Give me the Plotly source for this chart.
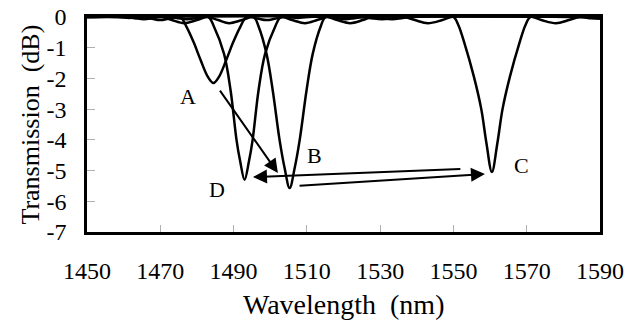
import plotly.graph_objects as go

# ---- data ----
wl_A = [1450, 1458.5, 1461.5, 1465, 1467.5, 1470, 1472.5, 1475.5, 1477.2, 1479.2, 1481, 1483,
        1484.5, 1486, 1488, 1489.8, 1491.8, 1493.5, 1496.5, 1499, 1501.5, 1504, 1507.5, 1510.5, 1590]
tr_A = [0, 0, -0.03, 0, -0.05, -0.1, -0.05, 0, -0.33, -0.85, -1.4, -1.95,
        -2.15, -1.95, -1.4, -0.85, -0.33, 0, -0.05, -0.1, -0.05, 0, -0.03, 0, 0]

wl_D = [1450, 1460, 1463, 1465.5, 1468, 1470.5, 1473.2, 1476.5, 1480, 1483.1, 1484.6, 1487.4,
        1489.2, 1490.8, 1491.8, 1493, 1494.2, 1495.2, 1496.8, 1498.6, 1501.4, 1502.9, 1506,
        1509.5, 1512.8, 1515.5, 1518, 1520.5, 1523, 1526, 1590]
tr_D = [0, 0, -0.04, -0.07, -0.04, 0, -0.1, -0.2, -0.1, 0, -0.3, -1.2,
        -2.4, -4.0, -4.7, -5.3, -4.7, -4.0, -2.4, -1.2, -0.3, 0, -0.1,
        -0.2, -0.1, 0, -0.04, -0.07, -0.04, 0, 0]

wl_B = [1450, 1472.3, 1474.8, 1477.3, 1479.8, 1482.8, 1485.8, 1488.8, 1492.3, 1495.5, 1496.8,
        1499, 1500.7, 1502.55, 1503.9, 1505.3, 1506.7, 1508.05, 1509.9, 1511.6, 1513.8, 1515.1,
        1518.3, 1521.8, 1525.3, 1527.8, 1530.3, 1533.3, 1535.8, 1538.3, 1590]
tr_B = [0, 0, -0.04, -0.07, -0.04, 0, -0.1, -0.2, -0.1, 0, -0.3,
        -1.2, -2.4, -4.0, -4.9, -5.57, -4.9, -4.0, -2.4, -1.2, -0.3, 0,
        -0.1, -0.2, -0.1, 0, -0.04, -0.07, -0.04, 0, 0]

wl_C = [1450, 1524.5, 1527.5, 1530.5, 1533.5, 1536.5, 1539.5, 1543, 1547, 1550, 1551.3, 1553,
        1555.6, 1557.6, 1559, 1560.5, 1562, 1563.4, 1565.4, 1568, 1569.7, 1571, 1574, 1578,
        1581.5, 1584.5, 1587.5, 1590]
tr_C = [0, 0, -0.04, -0.07, -0.04, 0, -0.1, -0.2, -0.1, 0, -0.25, -0.85,
        -1.95, -3.0, -4.1, -5.05, -4.1, -3.0, -1.95, -0.85, -0.25, 0, -0.1, -0.2,
        -0.1, 0, -0.04, -0.06]

x_ticks = [1450, 1470, 1490, 1510, 1530, 1550, 1570, 1590]
y_ticks = [0, -1, -2, -3, -4, -5, -6, -7]
y_ticklabels = ["0", "-1", "-2", "-3", "-4", "-5", "-6", "-7"]

x_title = "Wavelength\u00a0\u00a0(nm)"
y_title = "Transmission\u00a0\u00a0(dB)"

# labels and arrows (data coordinates)
label_text = ["A", "B", "C", "D"]
label_x = [1477.6, 1512.2, 1568.7, 1485.5]
label_y = [-2.6, -4.5, -4.82, -5.63]

arrow_from_x = [1486.0, 1552.3, 1507.6]
arrow_from_y = [-2.35, -4.95, -5.5]
arrow_to_x = [1502.1, 1495.3, 1558.6]
arrow_to_y = [-5.08, -5.21, -5.11]

FONT = "Liberation Serif"

fig = go.Figure()
for wl, tr in [(wl_A, tr_A), (wl_D, tr_D), (wl_B, tr_B), (wl_C, tr_C)]:
    fig.add_trace(go.Scatter(x=wl, y=tr, mode="lines",
                             line=dict(color="black", width=2.5, shape="spline", smoothing=1.0),
                             showlegend=False, hoverinfo="skip"))

annotations = []
for t, x, y in zip(label_text, label_x, label_y):
    annotations.append(dict(x=x, y=y, xref="x", yref="y", text=t, showarrow=False,
                            font=dict(family=FONT, size=22, color="black")))
for fx, fy, tx, ty in zip(arrow_from_x, arrow_from_y, arrow_to_x, arrow_to_y):
    annotations.append(dict(x=tx, y=ty, ax=fx, ay=fy, xref="x", yref="y", axref="x", ayref="y",
                            text="", showarrow=True, arrowhead=2, arrowsize=1.4,
                            arrowwidth=2, arrowcolor="black", standoff=0, startstandoff=0))
# axis titles
annotations.append(dict(x=0.5, y=-0.335, xref="paper", yref="paper", text=x_title,
                        showarrow=False, xanchor="center", yanchor="middle",
                        font=dict(family=FONT, size=28, color="black")))
annotations.append(dict(x=-0.111, y=0.5, xref="paper", yref="paper", text=y_title,
                        showarrow=False, xanchor="center", yanchor="middle", textangle=-90,
                        font=dict(family=FONT, size=26, color="black")))

fig.update_layout(
    template="none",
    width=626, height=320,
    margin=dict(l=87, r=26, t=17, b=88, autoexpand=False),
    paper_bgcolor="white", plot_bgcolor="white",
    font=dict(family=FONT, size=24, color="black"),
    annotations=annotations,
)
fig.update_xaxes(range=[1450, 1590], tickvals=x_ticks, ticks="inside", ticklen=7,
                 tickcolor="#b0b0b0", tickwidth=1, showline=True, linecolor="black",
                 linewidth=2.5, mirror=True, showgrid=False, zeroline=False, automargin=False,
                 ticklabelstandoff=15, tickfont=dict(family=FONT, size=24))
fig.update_yaxes(range=[-7, 0], tickvals=y_ticks, ticktext=y_ticklabels, ticks="inside",
                 ticklen=8, tickcolor="#b0b0b0", tickwidth=1, showline=True, linecolor="black",
                 linewidth=2.5, mirror=True, showgrid=False, zeroline=False, automargin=False,
                 ticklabelstandoff=13, tickfont=dict(family=FONT, size=24))

fig.write_html("out.html", config={"displayModeBar": False},
               post_script="document.body.style.margin='0';")
